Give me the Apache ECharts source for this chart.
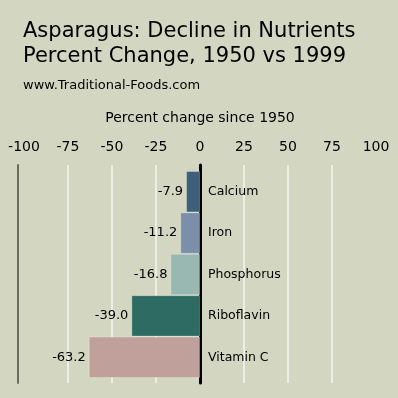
<!DOCTYPE html>
<html lang="en">
<head>
    <meta charset="utf-8">
    <title>Asparagus: Decline in Nutrients</title>
    <script src="https://cdn.jsdelivr.net/npm/echarts@6/dist/echarts.min.js"></script>
    <style>
        html, body { margin: 0; padding: 0; background: #d3d7c2; }
        #chart { width: 398px; height: 398px; }
    </style>
</head>
<body>
<div id="chart"></div>

<script>
    // nutrients, top to bottom
    var categories = ['Calcium', 'Iron', 'Phosphorus', 'Riboflavin', 'Vitamin C'];
    var changes = [-7.9, -11.2, -16.8, -39.0, -63.2];
    var barColors = ['#3e607b', '#7b8fa8', '#98b8b1', '#2e6c63', '#bfa09a'];

    var myChart = echarts.init(document.getElementById('chart'));

    var font = 'DejaVu Sans';

    var barData = [];
    for (var i = 0; i < changes.length; i++) {
        barData.push({
            value: changes[i],
            itemStyle: { color: barColors[i] }
        });
    }

    option = {
        backgroundColor: '#d3d7c2',
        animation: false,
        title: [
            {
                text: 'Asparagus: Decline in Nutrients\nPercent Change, 1950 vs 1999',
                left: 18,
                top: 14,
                textStyle: { fontFamily: font, fontSize: 21, fontWeight: 'normal', color: '#000', lineHeight: 25 }
            },
            {
                text: 'www.Traditional-Foods.com',
                left: 18,
                top: 74,
                textStyle: { fontFamily: font, fontSize: 13, fontWeight: 'normal', color: '#000' }
            }
        ],
        grid: [
            // grid lines and top axis
            { left: 24, right: 22, top: 165, bottom: 15 },
            // bars
            { left: 24, right: 22, top: 171, bottom: 20 },
            // category names, starting at the zero line
            { left: 200, right: 22, top: 171, bottom: 20 }
        ],
        xAxis: [
            {
                gridIndex: 0,
                type: 'value',
                position: 'top',
                min: -100,
                max: 100,
                interval: 25,
                name: 'Percent change since 1950',
                nameLocation: 'middle',
                nameGap: 40,
                nameTextStyle: { fontFamily: font, fontSize: 14, color: '#000' },
                axisLine: { show: false },
                axisTick: { show: false },
                axisLabel: { fontFamily: font, fontSize: 14, color: '#000', margin: 11 },
                splitLine: {
                    show: true,
                    showMinLine: false,
                    showMaxLine: false,
                    lineStyle: { color: '#eeeee6', width: 2 }
                }
            },
            { gridIndex: 1, type: 'value', min: -100, max: 100, show: false },
            { gridIndex: 2, type: 'value', min: 0, max: 100, show: false }
        ],
        yAxis: [
            {
                // black zero line
                gridIndex: 0,
                type: 'value',
                axisLine: { show: true, onZero: true, lineStyle: { color: '#000', width: 3 } },
                axisTick: { show: false },
                axisLabel: { show: false },
                splitLine: { show: false }
            },
            {
                // grey line on the left
                gridIndex: 0,
                type: 'value',
                position: 'left',
                offset: 6,
                axisLine: { show: true, onZero: false, lineStyle: { color: '#6b6d60', width: 2 } },
                axisTick: { show: false },
                axisLabel: { show: false },
                splitLine: { show: false }
            },
            {
                gridIndex: 1,
                type: 'category',
                inverse: true,
                data: categories,
                show: false
            },
            {
                gridIndex: 2,
                type: 'category',
                inverse: true,
                data: categories,
                axisLine: { show: false },
                axisTick: { show: false },
                splitLine: { show: false },
                axisLabel: { inside: true, margin: 8, fontFamily: font, fontSize: 12.5, color: '#000' },
                z: 10
            }
        ],
        series: [
            {
                name: 'Percent change',
                type: 'bar',
                xAxisIndex: 1,
                yAxisIndex: 2,
                barCategoryGap: 0,
                data: barData,
                itemStyle: { borderColor: 'rgba(255,255,255,0.25)', borderWidth: 1 },
                label: {
                    show: true,
                    position: 'left',
                    distance: 3,
                    fontFamily: font,
                    fontSize: 13,
                    color: '#000',
                    formatter: function (p) { return p.value.toFixed(1); }
                }
            }
        ]
    };

    myChart.setOption(option);
</script>

</body>
</html>
